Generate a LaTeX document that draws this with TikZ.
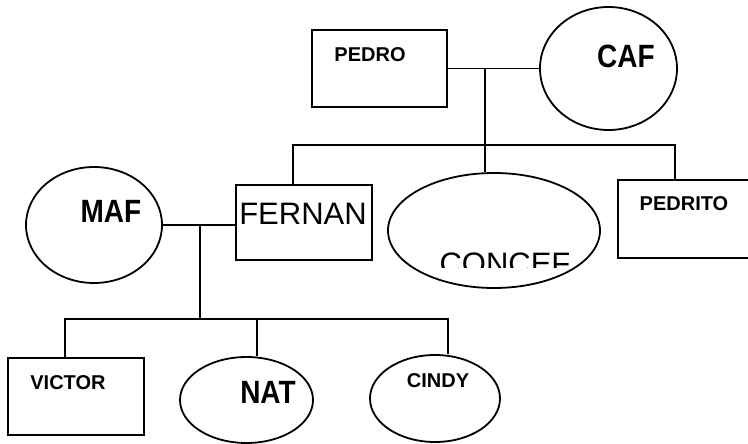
\documentclass[tikz,border=0pt]{standalone}
\usepackage{fontspec}
\setmainfont{Liberation Sans}
\usetikzlibrary{shapes.geometric}
\tikzset{
  person/.style={draw=black, line width=1.8pt, inner sep=0pt},
  malebox/.style={person, rectangle, minimum width=#1},
  femoval/.style={person, ellipse},
  link/.style={draw=black, line width=1.8pt},
  smallname/.style={inner sep=0pt, font=\fontsize{20}{20}\selectfont\bfseries},
  bigname/.style={inner sep=0pt, font=\fontsize{28}{28}\selectfont\bfseries, yscale=1.15},
  plainname/.style={inner sep=0pt, font=\fontsize{31}{31}\selectfont},
}
\begin{document}
\begin{tikzpicture}[x=1pt,y=-1pt]
\useasboundingbox (0,0) rectangle (748,444);
% persons
\node[malebox=135pt, minimum height=77pt] (pedro) at (379.5,68.5) {};
\node[femoval, minimum width=137pt, minimum height=123pt] (caf) at (608.5,68.5) {};
\node[femoval, minimum width=136pt, minimum height=116pt] (mar) at (94,225) {};
\node[malebox=136pt, minimum height=75pt] (fernan) at (304,222.5) {};
\node[femoval, minimum width=212pt, minimum height=115pt] (concep) at (494,230.5) {};
\node[malebox=142pt, minimum height=78pt] (pedrito) at (689,219) {};
\node[malebox=136pt, minimum height=77pt] (victor) at (76,396.5) {};
\node[femoval, minimum width=133pt, minimum height=86pt] (nat) at (246.5,400) {};
\node[femoval, minimum width=130pt, minimum height=87pt] (cindy) at (435,398.5) {};
% labels
\node[smallname] (tpedro) at (370,54.5) {PEDRO};
\node[bigname] (tcaf) at (626,56) {CAF};
\node[bigname] (tmar) at (111,211) {MAF};
\node[plainname] (tfernan) at (303,213.5) {FERNAN};
\begin{scope}
  \clip (380,240) rectangle (620,267);
  \node[plainname, anchor=north] (tconcep) at (505,253) {CONCEF};
\end{scope}
\node[smallname] (tpedrito) at (684,203.5) {PEDRITO};
\node[smallname] (tvictor) at (68,382.5) {VICTOR};
\node[bigname] (tnat) at (268,392) {NAT};
\node[smallname] (tcindy) at (438,380.5) {CINDY};
% connection points
\coordinate (m1) at (485,68.5);
\coordinate (bl) at (293,145);
\coordinate (br) at (675,145);
\coordinate (m2) at (200,224);
\coordinate (cl) at (65,319);
\coordinate (cm) at (257,319);
\coordinate (cr) at (448,319);
% connectors
\draw[link] (pedro.east) -- (caf.west);
\draw[link] (m1) -- (m1 |- concep.north);
\draw[link] (fernan.north -| bl) -- (bl) -- (br) -- (br |- pedrito.north);
\draw[link] (mar.east) -- (mar.east -| fernan.west);
\draw[link] (m2) -- (m2 |- cl);
\draw[link] (victor.north -| cl) -- (cl) -- (cr) -- (cr |- cindy.north);
\draw[link] (cm) -- (cm |- nat.north);
\end{tikzpicture}
\end{document}
